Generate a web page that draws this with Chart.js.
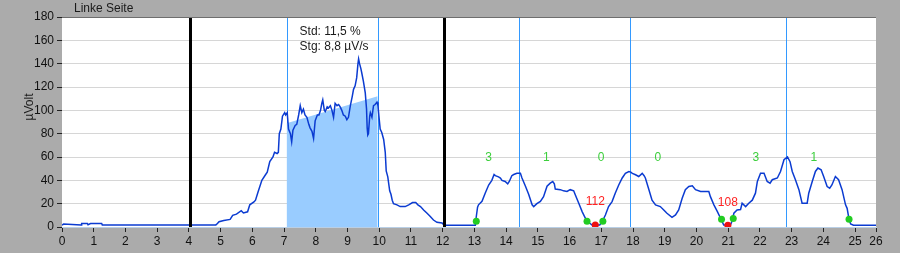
<!doctype html>
<html lang="de">
<head>
<meta charset="UTF-8" />
<title>Linke Seite</title>
<style>
  html, body { margin: 0; padding: 0; background: #ababab; }
  #chart { display: block; }
</style>
</head>
<body>
<canvas id="chart" width="900" height="253"></canvas>
<script src="https://cdn.jsdelivr.net/npm/chart.js"></script>
<script>
// signal (time in s, amplitude in µV)
const sigT = [0, 0.05, 0.6, 0.62, 0.8, 0.82, 0.9, 1.25, 1.27, 4.85, 4.9, 4.95, 5.1, 5.3, 5.38, 5.5, 5.65, 5.72, 5.85, 5.92,
  6.05, 6.1, 6.18, 6.3, 6.42, 6.47, 6.55, 6.65, 6.7, 6.78, 6.82, 6.85, 6.9, 6.95, 7.02, 7.05, 7.1, 7.14, 7.2, 7.24,
  7.28, 7.35, 7.4, 7.46, 7.51, 7.56, 7.61, 7.66, 7.72, 7.78, 7.82, 7.88, 7.93, 7.98, 8.05, 8.1, 8.15, 8.19, 8.22, 8.27,
  8.3, 8.36, 8.4, 8.46, 8.51, 8.56, 8.61, 8.67, 8.72, 8.77, 8.82, 8.87, 8.93, 8.98, 9.03, 9.09, 9.15, 9.19, 9.24, 9.29,
  9.33, 9.35, 9.38, 9.42, 9.45, 9.5, 9.56, 9.6, 9.62, 9.64, 9.66, 9.7, 9.72, 9.77, 9.82, 9.87, 9.93, 9.96, 9.99, 10.03,
  10.08, 10.14, 10.19, 10.22, 10.27, 10.33, 10.37, 10.41, 10.45, 10.56, 10.66, 10.82, 10.93, 11.05, 11.15, 11.22, 11.3, 11.4, 11.5, 11.61,
  11.71, 11.82, 11.98, 12.05, 13.03, 13.06, 13.1, 13.13, 13.24, 13.34, 13.45, 13.55, 13.62, 13.66, 13.76, 13.82, 13.87, 13.97, 14.05, 14.1,
  14.18, 14.24, 14.34, 14.45, 14.5, 14.61, 14.71, 14.82, 14.87, 14.97, 15.08, 15.18, 15.29, 15.39, 15.47, 15.52, 15.55, 15.71, 15.81, 15.92,
  16.02, 16.13, 16.18, 16.29, 16.4, 16.5, 16.6, 16.71, 16.95, 17.04, 17.08, 17.13, 17.23, 17.34, 17.44, 17.55, 17.66, 17.76, 17.87, 17.93,
  17.98, 18.08, 18.18, 18.29, 18.35, 18.39, 18.49, 18.6, 18.71, 18.86, 18.97, 19.07, 19.23, 19.34, 19.44, 19.55, 19.65, 19.76, 19.87, 19.97,
  20.13, 20.28, 20.39, 20.44, 20.55, 20.66, 20.76, 20.86, 21.07, 21.12, 21.18, 21.28, 21.39, 21.44, 21.55, 21.65, 21.76, 21.86, 21.92, 22.02,
  22.13, 22.23, 22.32, 22.39, 22.55, 22.65, 22.76, 22.87, 22.95, 23.02, 23.12, 23.23, 23.33, 23.49, 23.54, 23.65, 23.75, 23.83, 23.93, 24.01,
  24.12, 24.2, 24.27, 24.38, 24.48, 24.59, 24.7, 24.75, 24.81, 24.86, 24.95, 25.66];
const sigV = [1.5, 2.5, 1.8, 3, 3, 2, 3, 3, 1.8, 1.8, 3, 4.5, 5.5, 6.5, 10, 11, 14, 12, 13, 19,
  21.5, 23, 30, 40, 45, 47, 56, 60, 64, 63, 64, 80, 84, 95, 98, 96, 98, 84, 80, 73,
  83, 87, 88, 96, 104, 98, 101, 96, 94, 88, 85, 82, 76, 91, 96, 96, 100, 106, 109, 100,
  99, 103, 102, 104, 100, 94, 106, 104, 105, 103, 100, 96, 95, 92, 94, 104, 112, 118, 121, 128,
  140, 144, 140, 136, 132, 125, 115, 101, 85, 79, 80, 95, 98, 94, 104, 105, 107, 104, 95, 84,
  81, 75, 64, 48, 43, 31, 28, 23, 20, 19, 17.5, 17.5, 19, 21, 21, 19, 17.5, 14.6, 12, 9,
  6, 4, 3.5, 1.5, 1.5, 9, 17, 19, 22, 29, 36, 40, 45, 44, 43, 42, 40, 39, 37, 39,
  44, 45, 46, 46, 42, 35, 28, 19, 17.5, 20, 22, 26, 35, 37.6, 39, 37, 32.5, 32, 31, 30.5,
  32, 31, 27.6, 20.4, 13, 7.5, 4, 1.7, 1.7, 5, 7.5, 10.3, 17.5, 21.8, 29, 36, 42, 46, 47.6, 47,
  46, 44.8, 43.3, 46, 44, 42, 33, 23, 19, 17.5, 14.6, 11.8, 8.3, 10.3, 14.6, 24.7, 32, 34.7, 35.3, 32,
  30.4, 30.4, 30.4, 26, 19, 13.2, 7.5, 1.7, 1.7, 5, 11.8, 14.6, 15, 20.4, 17.5, 20.4, 23, 29, 39, 46,
  46, 39, 37.6, 40.5, 42, 47.6, 57.7, 60, 56, 47.6, 40.5, 32, 20.4, 20.4, 29, 39, 47.6, 50.5, 49, 43.3,
  34.7, 33.3, 36, 43.3, 40.5, 32, 19, 16, 6.6, 2.6, 1.5, 1.5];

// regression ramp over the analysed window
const rampT = [7.08, 9.95];
const rampV = [89, 112];

// detected points
const greenT = [13.06, 16.55, 17.05, 20.79, 21.16, 24.81];
const greenV = [5, 5, 5, 6.6, 7.2, 6.6];
const redT = [16.81, 20.99];
const redV = [1.7, 1.5];
const redLabels = ['112', '108'];

// counts per segment
const countT = [13.45, 15.27, 16.99, 18.78, 21.87, 23.7];
const countLabels = ['3', '1', '0', '0', '3', '1'];
const countY = 59;

// cursors
const blueCursors = [7.08, 9.95, 14.4, 17.92, 22.82];
const blackCursors = [4.04, 12.05];

const statLines = ['Std: 11,5 %', 'Stg: 8,8 µV/s'];

const xTickVals = [0, 1, 2, 3, 4, 5, 6, 7, 8, 9, 10, 11, 12, 13, 14, 15, 16, 17, 18, 19, 20, 21, 22, 23, 24, 25, 25.66];
const xTickLabels = ['0', '1', '2', '3', '4', '5', '6', '7', '8', '9', '10', '11', '12', '13', '14', '15', '16', '17', '18', '19', '20', '21', '22', '23', '24', '25', '26'];

const FONT = '"Liberation Sans", Arial, sans-serif';

const pts = (xs, ys) => xs.map((x, i) => ({ x: x, y: ys[i] }));

// panel background, cursors and texts
const panel = {
  id: 'panel',
  beforeDraw(chart) {
    const { ctx, chartArea: a } = chart;
    ctx.save();
    ctx.fillStyle = '#ababab';
    ctx.fillRect(0, 0, chart.width, chart.height);
    ctx.fillStyle = '#ffffff';
    ctx.fillRect(a.left, a.top, a.right - a.left, a.bottom - a.top);
    ctx.restore();
  },
  beforeDatasetsDraw(chart) {
    const { ctx, chartArea: a, scales: { x } } = chart;
    ctx.save();
    ctx.strokeStyle = '#3399ff';
    ctx.lineWidth = 1;
    blueCursors.forEach(t => {
      const px = Math.round(x.getPixelForValue(t)) + 0.5;
      ctx.beginPath();
      ctx.moveTo(px, a.top);
      ctx.lineTo(px, a.bottom);
      ctx.stroke();
    });
    ctx.restore();
  },
  afterDatasetsDraw(chart) {
    const { ctx, chartArea: a, scales: { x, y } } = chart;
    ctx.save();
    ctx.strokeStyle = '#000000';
    ctx.lineWidth = 3;
    blackCursors.forEach(t => {
      const px = Math.round(x.getPixelForValue(t)) + 0.5;
      ctx.beginPath();
      ctx.moveTo(px, a.top);
      ctx.lineTo(px, a.bottom);
      ctx.stroke();
    });

    // top frame line
    ctx.strokeStyle = '#6e6e6e';
    ctx.lineWidth = 1;
    ctx.beginPath();
    ctx.moveTo(a.left, a.top + 0.5);
    ctx.lineTo(a.right, a.top + 0.5);
    ctx.stroke();

    ctx.textAlign = 'center';
    ctx.textBaseline = 'middle';
    ctx.font = '12px ' + FONT;
    ctx.fillStyle = '#3ccf3c';
    countT.forEach((t, i) => {
      ctx.fillText(countLabels[i], x.getPixelForValue(t), y.getPixelForValue(countY));
    });
    ctx.fillStyle = '#ff2222';
    redT.forEach((t, i) => {
      ctx.fillText(redLabels[i], x.getPixelForValue(t), y.getPixelForValue(redV[i]) - 23);
    });

    ctx.textAlign = 'left';
    ctx.fillStyle = '#1a1a1a';
    const sx = x.getPixelForValue(rampT[0]) + 13;
    statLines.forEach((s, i) => ctx.fillText(s, sx, 32 + i * 15));

    // title and y axis name
    ctx.fillText('Linke Seite', 74, 9);
    ctx.translate(30, 107);
    ctx.rotate(-Math.PI / 2);
    ctx.textAlign = 'center';
    ctx.fillText('µVolt', 0, 0);
    ctx.restore();
  }
};

const config = {
  type: 'line',
  data: {
    datasets: [
      {
        type: 'scatter',
        data: pts(greenT, greenV),
        backgroundColor: '#22cc22',
        borderWidth: 0,
        pointRadius: 3.5,
        order: 0
      },
      {
        type: 'scatter',
        data: pts(redT, redV),
        backgroundColor: '#ee1111',
        borderWidth: 0,
        pointRadius: 3.5,
        order: 0
      },
      {
        data: pts(sigT, sigV),
        borderColor: '#0b3bd1',
        borderWidth: 1.5,
        pointRadius: 0,
        tension: 0,
        fill: false,
        order: 1
      },
      {
        data: pts(rampT, rampV),
        borderWidth: 0,
        borderColor: 'rgba(0,0,0,0)',
        backgroundColor: '#99ccff',
        pointRadius: 0,
        fill: 'origin',
        order: 3
      }
    ]
  },
  options: {
    responsive: false,
    devicePixelRatio: 1,
    animation: false,
    layout: { padding: { left: 0, right: 24, top: 17, bottom: 0 } },
    plugins: { legend: { display: false }, tooltip: { enabled: false } },
    scales: {
      x: {
        type: 'linear',
        min: 0,
        max: 25.66,
        afterBuildTicks: scale => { scale.ticks = xTickVals.map(v => ({ value: v })); },
        afterFit: scale => { scale.height = 26; },
        ticks: {
          autoSkip: false,
          maxRotation: 0,
          padding: 2,
          color: '#111111',
          font: { family: FONT, size: 12 },
          callback: (v, i) => xTickLabels[i]
        },
        grid: { drawOnChartArea: false, drawTicks: true, tickLength: 5, tickColor: '#222222' },
        border: { display: true, color: '#b9cfe6', width: 1 }
      },
      y: {
        min: 0,
        max: 180,
        afterFit: scale => { scale.width = 62; },
        ticks: {
          stepSize: 20,
          padding: 3,
          color: '#111111',
          font: { family: FONT, size: 12 }
        },
        grid: { color: '#d6d6d6', lineWidth: 1, tickLength: 5, tickColor: '#222222' },
        border: { display: false }
      }
    }
  },
  plugins: [panel]
};

new Chart(document.getElementById('chart').getContext('2d'), config);
</script>
</body>
</html>
